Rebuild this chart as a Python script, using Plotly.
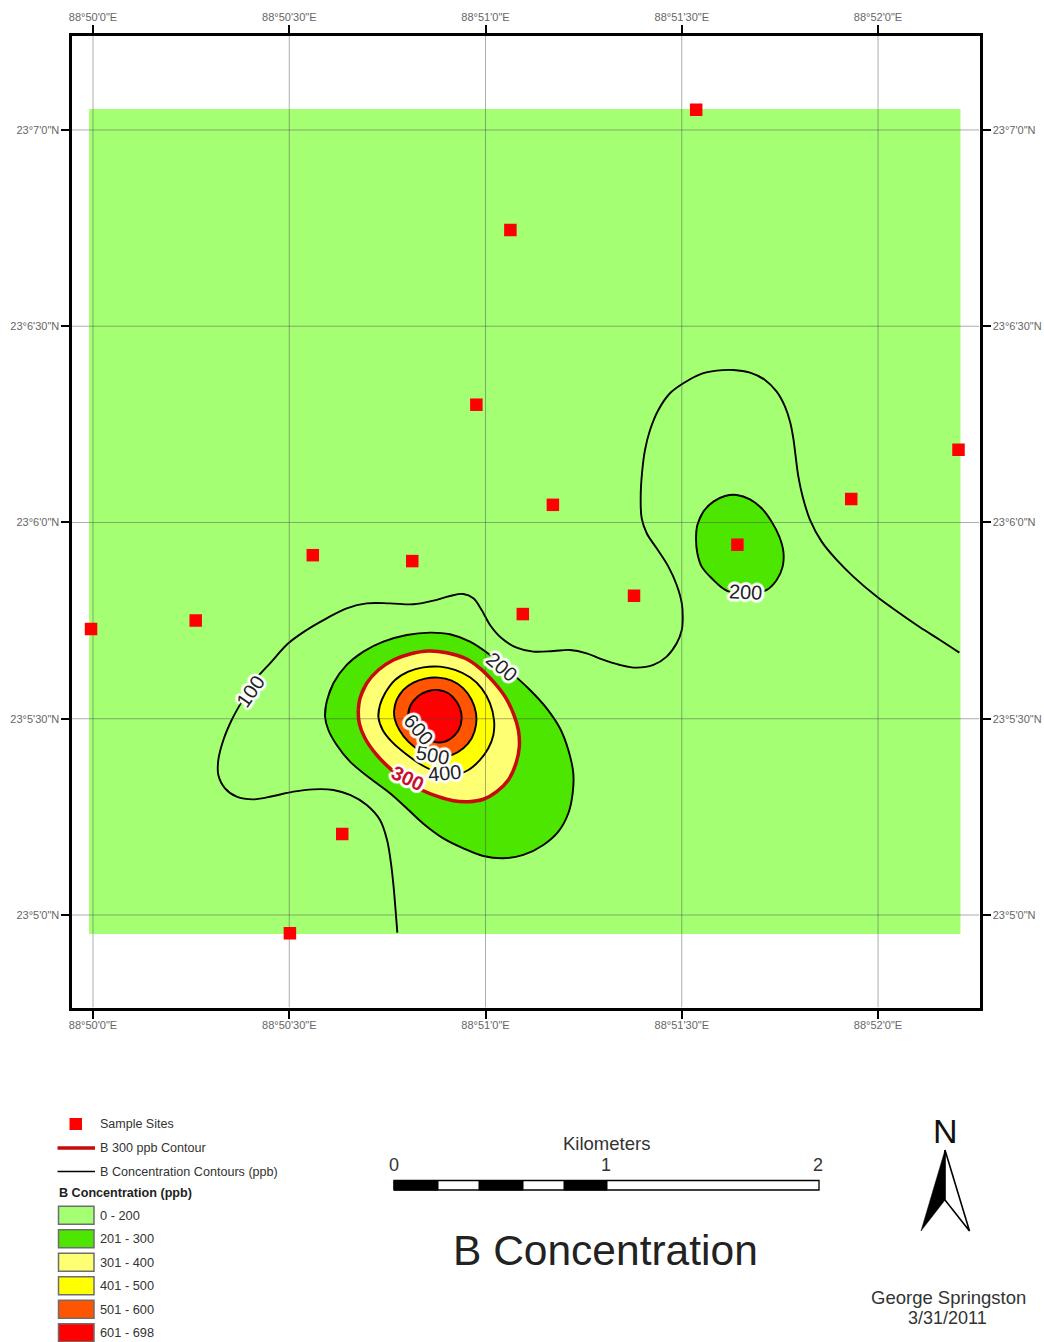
import plotly.graph_objects as go

W, H = 1044, 1342

# ---------- data: arcseconds east of 88°50'0"E and north of 23°5'0"N ----------
site_x = [-0.3, 15.7, 33.6, 48.8, 38.1, 30.1, 58.6, 63.8, 92.2, 70.3, 65.7, 82.7, 98.5, 115.9, 132.3]
site_y = [43.7, 45.0, 55.0, 54.1, 12.4, -2.8, 78.0, 104.7, 123.1, 62.7, 46.0, 48.8, 56.6, 63.6, 71.1]

extent_x = [-0.6, 132.6, 132.6, -0.6, -0.6]
extent_y = [-2.9, -2.9, 123.2, 123.2, -2.9]

c100_x = [46.52, 46.25, 45.95, 45.55, 44.95, 43.87, 41.84, 39.29, 36.74, 33.68, 30.63, 27.57, 24.51, 21.96, 20.18,
          19.16, 19.16, 19.93, 21.20, 22.73, 24.77, 27.06, 29.86, 32.66, 35.72, 38.78, 41.84, 45.40, 48.97, 52.02,
          54.57, 56.61, 58.14, 59.41, 60.69, 62.47, 64.76, 67.31, 70.37, 72.91, 75.46, 77.50, 80.56, 83.11, 85.66,
          87.69, 89.22, 90.00, 90.14, 90.00, 89.22, 87.95, 86.16, 84.64, 83.87, 83.72, 83.92, 84.38, 85.15, 86.42,
          88.20, 90.24, 92.79, 95.34, 97.88, 100.43, 102.72, 104.51, 105.78, 106.54, 107.05, 107.41, 107.82, 108.48,
          109.60, 111.38, 113.68, 116.22, 119.79, 123.36, 126.41, 129.47, 132.43]
c100_y = [-2.70, 0.77, 4.34, 7.90, 11.47, 14.53, 16.82, 18.35, 19.11, 19.21, 18.86, 18.19, 17.68, 18.09, 19.37,
          21.40, 23.70, 26.75, 29.81, 32.61, 35.92, 38.47, 41.53, 43.57, 45.35, 46.88, 47.64, 47.64, 47.49, 48.05,
          48.76, 49.07, 48.41, 46.62, 44.33, 42.29, 40.87, 40.26, 40.36, 40.51, 40.00, 39.19, 38.22, 37.81, 38.22,
          39.50, 41.53, 43.57, 45.10, 47.65, 50.45, 53.25, 56.05, 58.35, 60.64, 63.95, 67.52, 71.09, 74.14, 77.20,
          79.75, 81.28, 82.65, 83.21, 83.31, 82.91, 81.79, 80.00, 77.71, 75.42, 72.87, 70.07, 67.01, 63.95,
          60.39, 57.07, 54.27, 51.72, 48.67, 46.08, 43.98, 42.04, 40.11]

c200_x = [35.47, 35.72, 36.74, 38.78, 41.33, 44.38, 47.95, 51.52, 54.57, 57.63, 60.69, 63.74, 66.80, 69.35, 71.38,
          72.66, 73.42, 73.32, 72.66, 71.13, 68.84, 65.78, 62.72, 59.67, 56.61, 53.55, 50.50, 47.95, 45.40, 42.34,
          39.29, 37.25, 35.98]
c200_y = [30.32, 32.61, 35.42, 38.22, 40.26, 41.78, 42.80, 43.16, 42.91, 41.78, 39.75, 37.20, 34.40, 31.59, 28.54,
          25.23, 21.66, 18.60, 15.55, 12.74, 10.71, 9.18, 8.67, 9.02, 10.20, 11.72, 13.96, 16.31, 18.60, 20.89,
          23.44, 25.99, 28.28]

c200e_x = [92.18, 92.38, 93.30, 94.83, 96.61, 98.39, 100.43, 102.21, 103.74, 104.91, 105.53, 105.42, 104.51, 102.98,
           99.92, 96.86, 94.57, 93.04, 92.38]
c200e_y = [57.58, 59.62, 61.66, 63.19, 64.05, 64.21, 63.54, 62.17, 60.13, 57.84, 55.55, 53.25, 51.21, 49.69,
           48.92, 49.58, 51.47, 53.25, 55.29]

c300_x = [40.56, 40.82, 41.84, 43.62, 45.91, 48.46, 51.26, 54.06, 56.87, 59.16, 61.20, 62.98, 64.25, 65.02, 65.17,
          64.66, 63.49, 61.71, 59.67, 57.38, 55.08, 52.79, 50.24, 47.70, 45.40, 43.36, 41.58, 40.71]
c300_y = [31.34, 33.12, 35.42, 37.45, 38.98, 39.90, 40.36, 40.10, 39.24, 37.71, 35.67, 33.38, 30.83, 28.28, 25.74,
          23.19, 20.64, 18.86, 17.69, 17.33, 17.48, 18.09, 19.11, 20.64, 22.42, 24.46, 27.01, 29.30]

c400_x = [43.62, 43.87, 44.64, 46.17, 48.20, 50.50, 53.04, 55.34, 57.63, 59.41, 60.69, 61.30, 61.20, 60.43, 59.16,
          57.38, 55.08, 52.79, 50.24, 47.70, 45.66, 44.28]
c400_y = [30.32, 32.10, 33.89, 35.93, 37.20, 37.86, 37.96, 37.46, 36.33, 34.65, 32.36, 29.81, 27.52, 25.48, 23.70,
          22.17, 21.41, 21.76, 22.93, 24.72, 26.50, 28.28]

c500_x = [46.01, 46.42, 47.44, 48.97, 50.75, 52.79, 54.83, 56.61, 57.89, 58.55, 58.55, 57.89, 56.61, 54.83, 52.54,
          50.24, 48.20, 46.83, 46.17]
c500_y = [31.09, 32.87, 34.40, 35.52, 36.13, 36.28, 35.82, 34.65, 32.87, 30.83, 29.05, 27.01, 25.48, 24.46, 24.31,
          24.97, 26.50, 28.28, 29.81]

c600_x = [48.20, 48.56, 49.73, 51.26, 52.79, 54.32, 55.59, 56.31, 56.20, 55.34, 53.81, 52.03, 50.24, 48.87]
c600_y = [30.42, 32.10, 33.48, 34.24, 34.40, 33.89, 32.61, 30.83, 29.05, 27.52, 26.50, 26.50, 27.52, 28.89]

label_text = ["100", "200", "200", "300", "400", "500", "600"]
label_x = [24.0, 62.5, 99.7, 48.0, 53.7, 51.9, 49.7]
label_y = [34.1, 37.9, 49.4, 20.9, 21.7, 24.5, 28.4]
label_angle = [-55, 40, 3, 25, -5, 10, 50]

grid_seconds = [0, 30, 60, 90, 120]
lon_labels = ["88°50'0\"E", "88°50'30\"E", "88°51'0\"E", "88°51'30\"E", "88°52'0\"E"]
lat_labels = ["23°5'0\"N", "23°5'30\"N", "23°6'0\"N", "23°6'30\"N", "23°7'0\"N"]

class_labels = ["0 - 200", "201 - 300", "301 - 400", "401 - 500", "501 - 600", "601 - 698"]
class_colors = ["#A5FF73", "#4CE600", "#FFFF73", "#FFFF00", "#FF5500", "#FF0000"]

# ---------- layout constants ----------
FONT = "Liberation Sans, Arial, sans-serif"
LEFT, RIGHT, TOP, BOTTOM = 71.5, 979.5, 35.5, 1007.5
XR = [(LEFT - 93) / 6.542, (RIGHT - 93) / 6.542]
YR = [(915 - BOTTOM) / 6.542, (915 - TOP) / 6.542]
RED_LINE = "#C80A0A"


def px(x):
    return x / W


def py(y):
    return 1 - y / H


fig = go.Figure()


def region(x, y, fill, line="black", width=1.9):
    # the outline runs a little past its start so the spline closes without a corner
    fig.add_trace(go.Scatter(x=x + x[:3], y=y + y[:3], mode="lines", fill="toself", fillcolor=fill,
                             line=dict(color=line, width=width, shape="spline", smoothing=1),
                             hoverinfo="skip", showlegend=False))


fig.add_trace(go.Scatter(x=extent_x, y=extent_y, mode="lines", fill="toself", fillcolor=class_colors[0],
                         line=dict(width=0), hoverinfo="skip", showlegend=False))
region(c200_x, c200_y, class_colors[1])
region(c200e_x, c200e_y, class_colors[1])
region(c300_x, c300_y, class_colors[2], RED_LINE, 3.5)
region(c400_x, c400_y, class_colors[3])
region(c500_x, c500_y, class_colors[4])
region(c600_x, c600_y, class_colors[5])
fig.add_trace(go.Scatter(x=c100_x, y=c100_y, mode="lines",
                         line=dict(color="black", width=1.9, shape="spline", smoothing=1),
                         hoverinfo="skip", showlegend=False))

# graticule above the fills
gx, gy = [], []
for t in grid_seconds:
    gx += [t, t, None, XR[0], XR[1], None]
    gy += [YR[0], YR[1], None, t, t, None]
fig.add_trace(go.Scatter(x=gx, y=gy, mode="lines", line=dict(color="rgba(70,70,70,0.45)", width=1),
                         hoverinfo="skip", showlegend=False))

# sample sites on the overlay axes (these also carry the top and right tick labels)
fig.add_trace(go.Scatter(x=site_x, y=site_y, xaxis="x2", yaxis="y2", mode="markers",
                         marker=dict(symbol="square", size=12.5, color="#FF0000", line=dict(width=0)),
                         hoverinfo="skip", showlegend=False))

tick = dict(tickvals=grid_seconds, ticks="outside", ticklen=8, tickwidth=2, tickcolor="black",
            automargin=False,
            tickfont=dict(family=FONT, size=11, color="#666666"), showgrid=False, zeroline=False,
            showline=True, linecolor="black", linewidth=3)
xdom = [px(LEFT), px(RIGHT)]
ydom = [py(BOTTOM), py(TOP)]

shapes = []
ann = []


def text(s, x, y, size, color="#333333", anchor="left", **kw):
    dx = -2 if anchor == "left" else 0
    ann.append(dict(text=s, x=px(x + dx), y=py(y), xref="paper", yref="paper", xanchor=anchor, yanchor="middle",
                    showarrow=False, font=dict(family=FONT, size=size, color=color), **kw))


def rect(x0, y0, x1, y1, fill, line="black", width=1):
    shapes.append(dict(type="rect", xref="paper", yref="paper", x0=px(x0), x1=px(x1), y0=py(y0), y1=py(y1),
                       fillcolor=fill, line=dict(color=line, width=width), layer="above"))


def poly(points, fill, line="black", width=0):
    d = "M " + " L ".join(f"{px(a):.5f},{py(b):.5f}" for a, b in points) + " Z"
    shapes.append(dict(type="path", xref="paper", yref="paper", path=d, fillcolor=fill,
                       line=dict(color=line, width=width), layer="above"))


# contour labels with a white halo
ring = [(3, 0), (-3, 0), (0, 3), (0, -3), (2, 2), (-2, 2), (2, -2), (-2, -2), (1, 1), (-1, 1), (1, -1), (-1, -1)]
halo = ", ".join(f"{a}px {b}px 1px #fff" for a, b in ring)
for s, x, y, a in zip(label_text, label_x, label_y, label_angle):
    is300 = s == "300"
    ann.append(dict(text=f"<b>{s}</b>" if is300 else s, x=x, y=y, xref="x", yref="y", showarrow=False, textangle=a,
                    font=dict(family=FONT, size=20, color="#C8102E" if is300 else "#222222", shadow=halo)))

# legend
shapes.append(dict(type="rect", xref="paper", yref="paper", x0=px(69.5), x1=px(82), y0=py(1130), y1=py(1118),
                   fillcolor="#FF0000", line=dict(width=0), layer="above"))
text("Sample Sites", 100, 1124, 12.5)
shapes.append(dict(type="line", xref="paper", yref="paper", x0=px(57.5), x1=px(95), y0=py(1148), y1=py(1148),
                   line=dict(color=RED_LINE, width=3.5), layer="above"))
text("B 300 ppb Contour", 100, 1148, 12.6)
shapes.append(dict(type="line", xref="paper", yref="paper", x0=px(57.5), x1=px(95), y0=py(1171.5), y1=py(1171.5),
                   line=dict(color="black", width=1.5), layer="above"))
text("B Concentration Contours (ppb)", 100, 1172, 12.6)
text("<b>B Concentration (ppb)</b>", 59, 1193, 12.6, color="#222222")
for i, (lab, col) in enumerate(zip(class_labels, class_colors)):
    yc = 1215.3 + i * 23.47
    rect(58.5, yc - 9, 94, yc + 9, col, "#6E6E6E", 1.5)
    text(lab, 100, yc, 12.8)

# scale bar
text("Kilometers", 606, 1143, 18.5, anchor="center")
text("0", 394, 1165, 18, anchor="center")
text("1", 606, 1165, 18, anchor="center")
text("2", 818, 1165, 18, anchor="center")
rect(394, 1180.5, 819, 1190, "white", "black", 1.3)
for a, b in [(394, 438), (479, 523), (564, 607)]:
    rect(a, 1180.5, b, 1190, "black", "black", 1)

# title, north arrow, credit
text("B Concentration", 605, 1250, 42.5, color="#222222", anchor="center")
text("N", 945, 1131, 34, color="#111111", anchor="center")
poly([(945, 1150), (921, 1231), (945, 1200)], "black", "black", 0.5)
poly([(945, 1150), (969.5, 1231), (945, 1200)], "white", "black", 1.6)
text("George Springston", 948, 1297.5, 18.5, anchor="center")
text("3/31/2011", 947, 1318, 18, anchor="center")

fig.update_layout(
    width=W, height=H, margin=dict(l=0, r=0, t=0, b=0), paper_bgcolor="white", plot_bgcolor="white",
    showlegend=False, shapes=shapes, annotations=ann,
    xaxis=dict(domain=xdom, range=XR, side="bottom", anchor="y", ticktext=lon_labels, ticklabelstandoff=-3, **tick),
    yaxis=dict(domain=ydom, range=YR, side="left", anchor="x", ticktext=lat_labels, ticklabelstandoff=-1, **tick),
    xaxis2=dict(range=XR, overlaying="x", side="top", anchor="y2", ticktext=lon_labels, ticklabelstandoff=-1, **tick),
    yaxis2=dict(range=YR, overlaying="y", side="right", anchor="x2", ticktext=lat_labels, **tick),
)

fig.write_html("out.html", config=dict(displayModeBar=False), post_script="document.body.style.margin='0';")
